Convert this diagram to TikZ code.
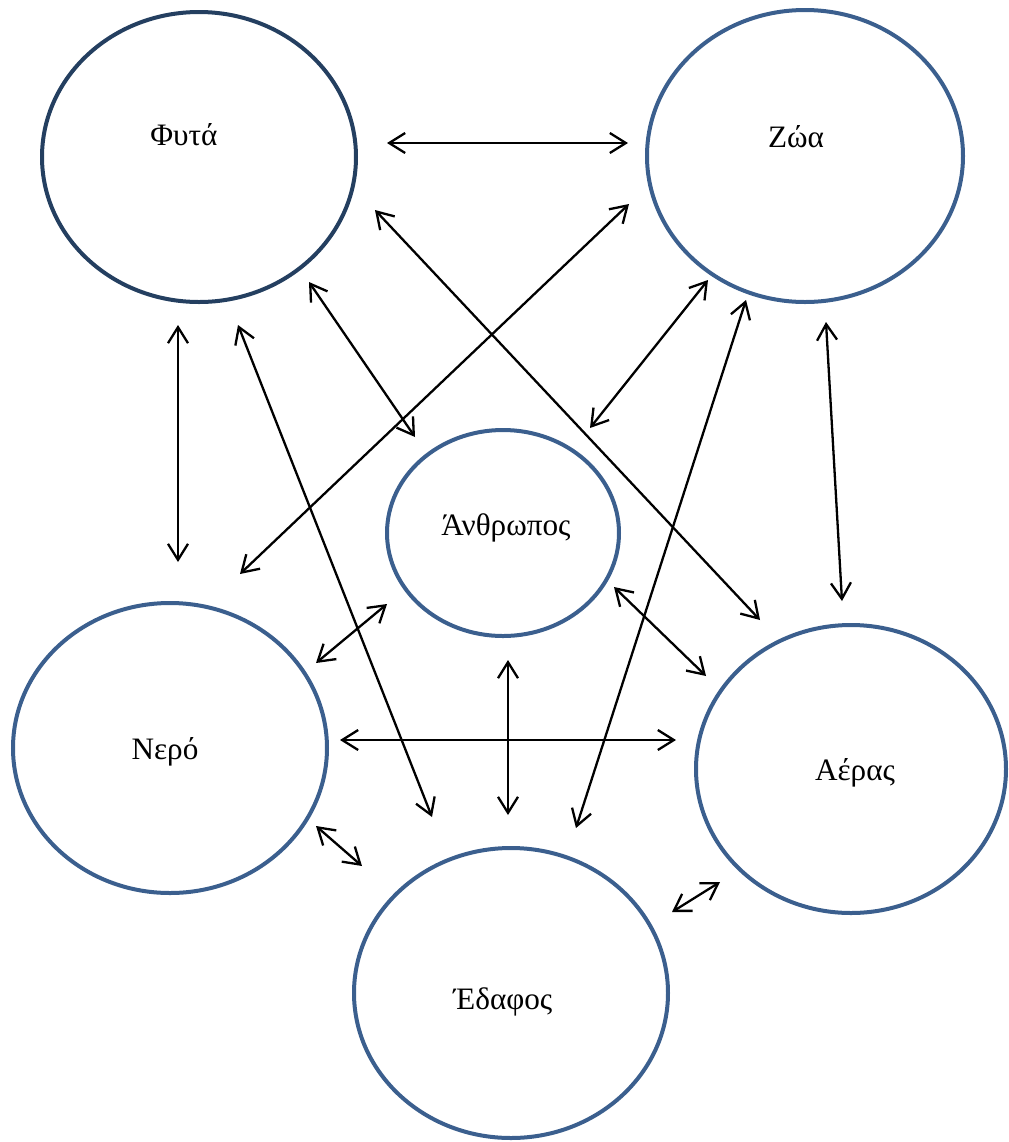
\documentclass[tikz,border=0pt]{standalone}
\usepackage{fontspec}
\setmainfont{Liberation Serif}
\usetikzlibrary{arrows.meta}
\definecolor{ringblue}{HTML}{3B5F8E}
\definecolor{ringdark}{HTML}{243F60}
\begin{document}
\begin{tikzpicture}[x=0.5pt,y=-0.5pt,
  ring/.style={draw=ringblue,line width=2pt},
  lab/.style={font=\fontsize{15.6pt}{18pt}\selectfont},
  link/.style={line width=1.15pt,{Straight Barb[length=8pt,width=10pt,line width=1.15pt]}-{Straight Barb[length=8pt,width=10pt,line width=1.15pt]}}]
\useasboundingbox (0,0) rectangle (1008,1142);
% rings
\draw[draw=ringdark,line width=2pt] (199,157) ellipse [x radius=157, y radius=145];
\draw[ring] (805,156) ellipse [x radius=158, y radius=146];
\draw[ring] (503,533) ellipse [x radius=116, y radius=103];
\draw[ring] (170,748) ellipse [x radius=157, y radius=145];
\draw[ring] (851,769) ellipse [x radius=155, y radius=144];
\draw[ring] (511,993) ellipse [x radius=157, y radius=145];
% labels
\node[lab] (fyta) at (184,135) {Φυτά};
\node[lab] (zoa) at (796,137) {Ζώα};
\node[lab] (anth) at (506,528) {Άνθρωπος};
\node[lab] (nero) at (165,752) {Νερό};
\node[lab] (aeras) at (855,773) {Αέρας};
\node[lab] (edafos) at (503,1002) {Έδαφος};
% endpoints
\coordinate (a1) at (387,143); \coordinate (b1) at (628,143);
\coordinate (a2) at (629,204); \coordinate (b2) at (240,574);
\coordinate (a3) at (375,210); \coordinate (b3) at (760,620);
\coordinate (a4) at (178,325); \coordinate (b4) at (178,562);
\coordinate (a5) at (309,282); \coordinate (b5) at (415,437);
\coordinate (a6) at (708,280); \coordinate (b6) at (590,428);
\coordinate (a7) at (826,322); \coordinate (b7) at (842,601);
\coordinate (a8) at (238,325); \coordinate (b8) at (432,817);
\coordinate (a9) at (746,300); \coordinate (b9) at (576,828);
\coordinate (a10) at (387,604); \coordinate (b10) at (316,663);
\coordinate (a11) at (614,587); \coordinate (b11) at (706,676);
\coordinate (a12) at (508,660); \coordinate (b12) at (508,815);
\coordinate (a13) at (340,740); \coordinate (b13) at (676,740);
\coordinate (a14) at (316,826); \coordinate (b14) at (362,866);
\coordinate (a15) at (720,882); \coordinate (b15) at (672,912);
\foreach \i in {1,...,15} { \draw[link] (a\i) -- (b\i); }
\end{tikzpicture}
\end{document}
